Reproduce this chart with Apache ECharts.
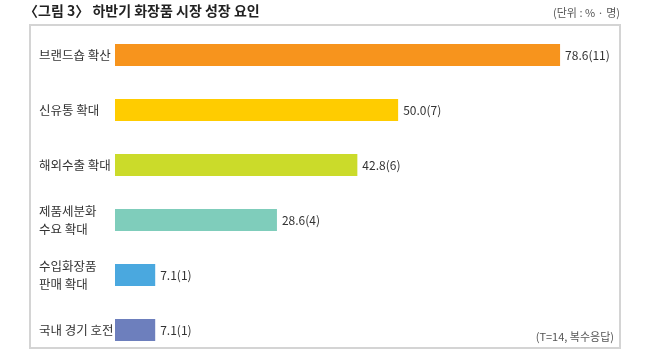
<!DOCTYPE html>
<html><head><meta charset="utf-8">
<script src="https://cdn.jsdelivr.net/npm/echarts@6/dist/echarts.min.js"></script>
<style>html,body{margin:0;padding:0;background:#fff}#c{width:650px;height:360px}</style>
</head><body><div id="c"></div>
<script>
const categories = ['브랜드숍 확산', '신유통 확대', '해외수출 확대', '제품세분화\n수요 확대', '수입화장품\n판매 확대', '국내 경기 호전'];
const values = [78.6, 50.0, 42.8, 28.6, 7.1, 7.1];
const counts = [11, 7, 6, 4, 1, 1];
const colors = ['#F7941D', '#FFCC00', '#CBDB2A', '#7FCDBB', '#4AA8DF', '#6D7FBD'];
const titleText = '〈그림 3〉 하반기 화장품 시장 성장 요인';
const unitText = '(단위 : % · 명)';
const noteText = '(T=14, 복수응답)';

const font = '"Noto Sans CJK KR", "Noto Sans", sans-serif';
const chart = echarts.init(document.getElementById('c'), null, {renderer: 'canvas'});
chart.setOption({
  animation: false,
  backgroundColor: '#fff',
  graphic: [
    {type: 'rect', shape: {x: 30, y: 25, width: 590, height: 323}, style: {fill: 'none', stroke: '#d4d4d4', lineWidth: 2}, z: 0},
    {type: 'text', left: 24, top: 4, style: {text: titleText, font: 'bold 14px ' + font, fill: '#222'}},
    {type: 'text', right: 30, top: 7, style: {text: unitText, font: '11px ' + font, fill: '#555'}},
    {type: 'text', right: 36, top: 331, style: {text: noteText, font: '11px ' + font, fill: '#555'}}
  ],
  grid: {left: 115, right: 82, top: 27.5, bottom: 2.5, containLabel: false},
  xAxis: {type: 'value', min: 0, max: 80, show: false},
  yAxis: {
    type: 'category', data: categories, inverse: true,
    axisLine: {show: false}, axisTick: {show: false},
    axisLabel: {align: 'left', margin: 76, fontFamily: font, fontSize: 12.5, color: '#333', lineHeight: 18}
  },
  series: [{
    type: 'bar', barWidth: 22,
    data: values.map((v, i) => ({value: v, itemStyle: {color: colors[i]}})),
    label: {
      show: true, position: 'right', distance: 5, fontFamily: font, fontSize: 12, color: '#333',
      formatter: p => values[p.dataIndex].toFixed(1) + '(' + counts[p.dataIndex] + ')'
    }
  }]
});
</script></body></html>
